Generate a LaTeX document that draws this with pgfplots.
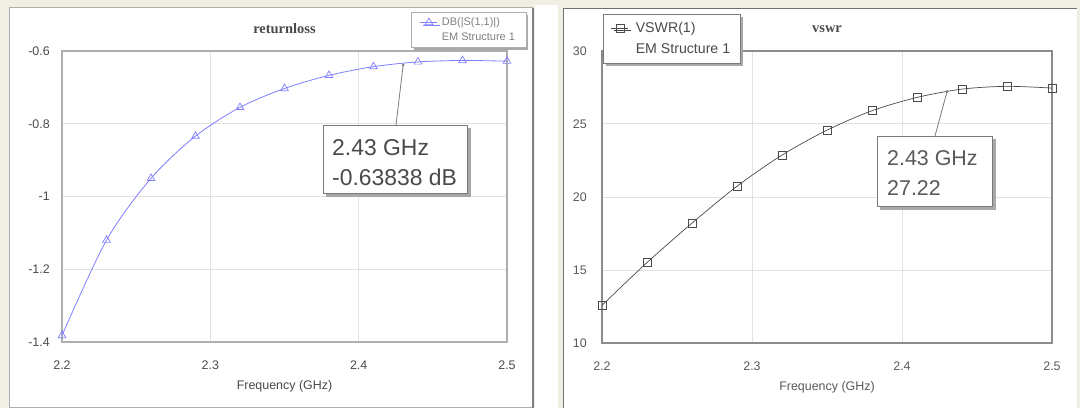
\documentclass[border=0pt]{standalone}
\usepackage{fontspec}
\setmainfont{Liberation Sans}
\newfontfamily\serifb{Liberation Serif}
\usepackage{pgfplots}
\usepackage{pgfplotstable}
\pgfplotsset{compat=1.18}
\usetikzlibrary{shadows}
\definecolor{beige}{HTML}{F1EFE4}
\definecolor{lblue}{HTML}{7F7FFF}
\definecolor{gridc}{HTML}{E2E2E2}
\definecolor{laxc}{HTML}{AEAEAE}
\definecolor{raxc}{HTML}{8C8C8C}
\definecolor{ltxt}{HTML}{4A4A4A}
\definecolor{rtxt}{HTML}{5A5A5A}
\definecolor{rline}{HTML}{4A4A4A}
\definecolor{boxc}{HTML}{7A7A7A}
\definecolor{shad}{HTML}{A8A8A8}

\pgfplotstableread{
f v
2.20 -1.382
2.23 -1.120
2.26 -0.950
2.29 -0.834
2.32 -0.755
2.35 -0.703
2.38 -0.667
2.41 -0.643
2.44 -0.630
2.47 -0.626
2.50 -0.628
}\rltable

\pgfplotstableread{
f v
2.20 12.58
2.23 15.51
2.26 18.21
2.29 20.74
2.32 22.87
2.35 24.58
2.38 25.91
2.41 26.82
2.44 27.39
2.47 27.58
2.50 27.46
}\vstable

\pgfplotsset{myax/.style={
  scale only axis,
  xmin=2.2, xmax=2.5,
  xtick={2.2,2.3,2.4,2.5},
  major tick length=0pt,
  grid=major,
  major grid style={gridc, line width=1bp},
  /pgf/number format/assume math mode=true,
  tick label style={font=\fontsize{12.5}{14}\selectfont},
  xticklabel style={anchor=center, yshift=-23bp, /pgf/number format/fixed, /pgf/number format/precision=1},
  label style={font=\fontsize{12.5}{14}\selectfont},
  xlabel style={at={(axis description cs:0.5,0)}, anchor=center, yshift=-44bp},
  title style={at={(axis description cs:0.5,1)}, anchor=center, yshift=16bp, font=\serifb\bfseries\fontsize{14.5}{16}\selectfont},
  legend cell align=left,
}}

\begin{document}
\begin{tikzpicture}
\begin{scope}[x=1bp,y=1bp]
\useasboundingbox (0,0) rectangle (1080,408);
\fill[beige] (0,0) rectangle (1080,408);
\fill[white] (9,0) rectangle (534,400);
\draw[laxc, line width=1bp] (9.5,0.5) -- (9.5,400) -- (533,400);
\draw[laxc, line width=1bp] (9.5,0.8) -- (533,0.8);
\draw[gray, line width=2.5bp] (533,400) -- (533,0);
\fill[white] (535,0) rectangle (558,403);
\fill[white] (563,0) rectangle (1077,399);
\draw[raxc!80!black, line width=1bp] (563.5,0) -- (563.5,399.5) -- (1077,399.5);
\end{scope}

% ---------------- left: return loss ----------------
\begin{axis}[myax,
  at={(62bp,66bp)}, anchor=south west,
  width=445bp, height=291bp,
  ymin=-1.4, ymax=-0.6,
  ytick={-1.4,-1.2,-1,-0.8,-0.6},
  axis line style={laxc, line width=2bp},
  tick label style={text=ltxt},
  yticklabel style={anchor=east, inner sep=0pt, xshift=-12bp},
  xlabel={Frequency (GHz)},
  xlabel style={text=ltxt},
  title={returnloss},
  title style={text=ltxt},
  legend style={at={(axis description cs:0.784,1.134)}, anchor=north west,
    draw=boxc!60, fill=white, text=gray,
    font=\fontsize{11}{12}\selectfont, row sep=1.5bp, column sep=2bp,
    inner xsep=9bp, inner ysep=3.5bp,
    drop shadow={shadow xshift=2.5bp, shadow yshift=-2.5bp, fill=shad, opacity=1}},
]
\addplot[lblue, line width=0.8bp, smooth, mark=triangle, mark size=4.4bp, mark options={solid, line width=0.7bp}] table[x=f, y=v] {\rltable};
\addlegendentry{DB(|S(1,1)|)}
\addlegendimage{empty legend}
\addlegendentry{EM Structure 1}
\addplot[only marks, mark=*, mark size=1.2bp, gray, forget plot] coordinates {(2.43,-0.63838)};
\coordinate (p1) at (axis cs:2.43,-0.63838);
\end{axis}

% ---------------- right: vswr ----------------
\begin{axis}[myax,
  at={(602bp,65bp)}, anchor=south west,
  width=450bp, height=292bp,
  ymin=10, ymax=30,
  ytick={10,15,20,25,30},
  axis line style={raxc, line width=1.2bp},
  tick label style={text=rtxt},
  yticklabel style={anchor=east, inner sep=0pt, xshift=-15bp},
  xlabel={Frequency (GHz)},
  xlabel style={text=rtxt},
  title={vswr},
  title style={text=rline},
  legend style={at={(axis description cs:0.002,1.127)}, anchor=north west,
    draw=boxc, fill=white, text=rline,
    font=\fontsize{14.2}{16}\selectfont, row sep=6bp, column sep=5bp,
    inner xsep=8bp, inner ysep=6bp,
    drop shadow={shadow xshift=2.5bp, shadow yshift=-2.5bp, fill=shad, opacity=1}},
]
\addplot[rline, line width=0.7bp, smooth, mark=square, mark size=4bp, mark options={solid, line width=0.7bp}] table[x=f, y=v] {\vstable};
\addlegendentry{VSWR(1)}
\addlegendimage{empty legend}
\addlegendentry{EM Structure 1}
\addplot[only marks, mark=*, mark size=1.2bp, gray, forget plot] coordinates {(2.43,27.22)};
\coordinate (p2) at (axis cs:2.43,27.22);
\end{axis}

% ---------------- markers' annotation boxes ----------------
\begin{scope}[x=1bp,y=1bp]
\draw[boxc, line width=0.8bp] (p1) -- (396,283);
\fill[shad] (326,211) rectangle (471,280);
\fill[white] (323,214) rectangle (468,283);
\draw[boxc, line width=0.8bp] (323.5,214.5) rectangle (467.5,282.5);
\node[anchor=base west, inner sep=0pt, text=ltxt, font=\fontsize{23}{26}\selectfont] at (332,253) {2.43 GHz};
\node[anchor=base west, inner sep=0pt, text=ltxt, font=\fontsize{23}{26}\selectfont] at (332,223) {-0.63838 dB};

\draw[boxc, line width=0.8bp] (p2) -- (935,272);
\fill[shad] (880,198) rectangle (996,269);
\fill[white] (877,201) rectangle (993,272);
\draw[boxc, line width=0.8bp] (877.5,201.5) rectangle (992.5,271.5);
\node[anchor=base west, inner sep=0pt, text=rtxt, font=\fontsize{21.5}{24}\selectfont] at (887,243) {2.43 GHz};
\node[anchor=base west, inner sep=0pt, text=rtxt, font=\fontsize{21.5}{24}\selectfont] at (887,213) {27.22};
\end{scope}
\end{tikzpicture}
\end{document}
